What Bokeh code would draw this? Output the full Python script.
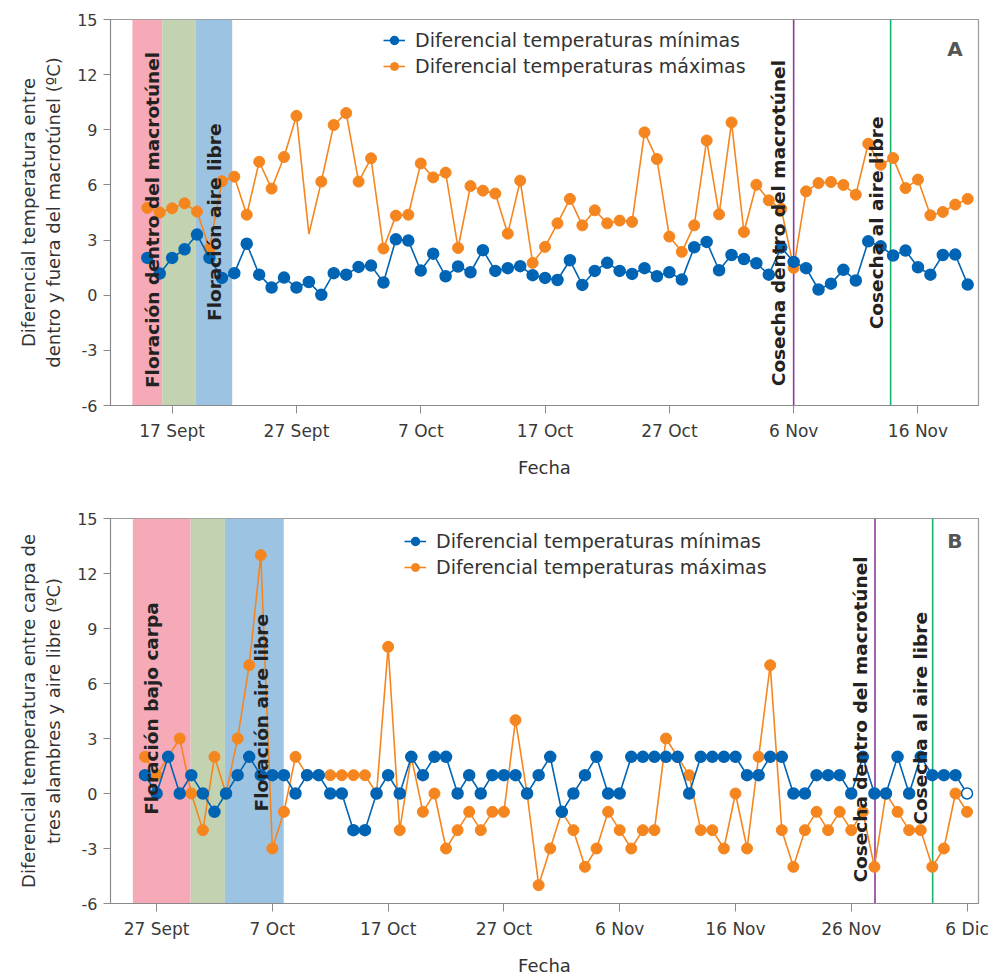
import math
from bokeh.plotting import figure
from bokeh.layouts import column
from bokeh.models import (Range1d, FixedTicker, Span, BoxAnnotation, Legend,
                          LegendItem, Label, ColumnDataSource)
from bokeh.embed import file_html
from bokeh.resources import INLINE

FONT = "DejaVu Sans"
BLUE = "#0064b4"
ORANGE = "#f5861f"

# ---------------- Panel A (days counted from 17 Sept) ----------------
a_first_day = -2   # 15 Sept
a_min = [2.03, 1.18, 2.03, 2.5, 3.3, 2.03, 0.94, 1.2, 2.8, 1.12, 0.42, 0.96, 0.42, 0.72,
         0.02, 1.2, 1.12, 1.54, 1.61, 0.69, 3.04, 2.97, 1.34, 2.26, 1.03, 1.56, 1.25,
         2.45, 1.32, 1.47, 1.58, 1.09, 0.94, 0.83, 1.9, 0.56, 1.32, 1.76, 1.32, 1.16,
         1.47, 1.03, 1.25, 0.85, 2.61, 2.9, 1.36, 2.19, 1.97, 1.74, 1.12, 2.6, 1.81,
         1.47, 0.31, 0.63, 1.38, 0.8, 2.93, 2.66, 2.16, 2.43, 1.52, 1.12, 2.19, 2.21, 0.58]
a_max = [4.75, 4.5, 4.73, 5.0, 4.55, 2.54, 6.2, 6.45, 4.38, 7.26, 5.8, 7.52, 9.76, 3.33,
         6.18, 9.26, 9.91, 6.18, 7.45, 2.54, 4.33, 4.38, 7.17, 6.41, 6.67, 2.57, 5.94,
         5.69, 5.53, 3.35, 6.23, 1.76, 2.63, 3.91, 5.24, 3.8, 4.62, 3.91, 4.06, 3.99,
         8.86, 7.41, 3.19, 2.36, 3.8, 8.42, 4.4, 9.4, 3.44, 6.01, 5.16, 4.7, 1.49, 5.65,
         6.1, 6.16, 6.0, 5.47, 8.24, 7.1, 7.46, 5.83, 6.29, 4.35, 4.53, 4.93, 5.24]
a_max_no_marker_days = [11]
a_tick_days = [0, 10, 20, 30, 40, 50, 60]
a_tick_labels = ["17 Sept", "27 Sept", "7 Oct", "17 Oct", "27 Oct", "6 Nov", "16 Nov"]
a_bands = [(-3.2, -0.8), (-0.8, 1.87), (1.87, 4.83)]
a_harvest_in = 50.0
a_harvest_out = 57.8
a_ylabel = "Diferencial temperatura entre\ndentro y fuera del macrotúnel (ºC)"

# ---------------- Panel B (days counted from 27 Sept) ----------------
b_first_day = -1   # 26 Sept
b_min = [1, 0, 2, 0, 1, 0, -1, 0, 1, 2, 1, 1, 1, 0, 1, 1, 0, 0, -2, -2, 0, 1, 0, 2, 1, 2,
         2, 0, 1, 0, 1, 1, 1, 0, 1, 2, -1, 0, 1, 2, 0, 0, 2, 2, 2, 2, 2, 0, 2, 2, 2, 2, 1,
         1, 2, 2, 0, 0, 1, 1, 1, 0, 2, 0, 0, 2, 0, 2, 1, 1, 1, 0]
b_max = [2, 1, 2, 3, 0, -2, 2, 0, 3, 7, 13, -3, -1, 2, 1, 1, 1, 1, 1, 1, 0, 8, -2, 2, -1,
         0, -3, -2, -1, -2, -1, -1, 4, 0, -5, -3, -1, -2, -4, -3, -1, -2, -3, -2, -2, 3,
         2, 1, -2, -2, -3, 0, -3, 2, 7, -2, -4, -2, -1, -2, -1, -2, -1, -4, 0, -1, -2,
         -2, -4, -3, 0, -1]
b_min_open_days = [70]
b_tick_days = [0, 10, 20, 30, 40, 50, 60, 70]
b_tick_labels = ["27 Sept", "7 Oct", "17 Oct", "27 Oct", "6 Nov", "16 Nov", "26 Nov", "6 Dic"]
b_bands = [(-2.05, 2.94), (2.94, 5.9), (5.9, 10.98)]
b_harvest_in = 62.05
b_harvest_out = 67.03
b_ylabel = "Diferencial temperatura entre carpa de\ntres alambres y aire libre (ºC)"

legend_labels = ["Diferencial temperaturas mínimas", "Diferencial temperaturas máximas"]
band_colors = ["#f6aab8", "#c3d3b1", "#9dc3e3"]
y_ticks = [-6, -3, 0, 3, 6, 9, 12, 15]
y_tick_labels = ["-6", "-3", "0", "3", "6", "9", "12", "15"]


def make_panel(first_day, vmin, vmax, no_marker_max, open_min, ticks, tick_labels,
               bands, harvest_in, harvest_out, xr, ylabel, texts, letter, letter_pos,
               legend_loc, height, top, bottom):
    p = figure(width=991, height=height, output_backend="svg", toolbar_location=None,
               x_range=Range1d(*xr), y_range=Range1d(-6, 15),
               min_border_left=110, min_border_right=13, min_border_top=top,
               min_border_bottom=bottom)
    p.grid.visible = False
    p.outline_line_color = "#9a9a9a"
    p.outline_line_width = 1.2

    for (x0, x1), c in zip(bands, band_colors):
        p.add_layout(BoxAnnotation(left=x0, right=x1, fill_color=c, fill_alpha=1.0,
                                   line_color=None, level="underlay"))
    p.add_layout(Span(location=harvest_in, dimension="height", line_color="#8b3a97",
                      line_width=1.6, level="underlay"))
    p.add_layout(Span(location=harvest_out, dimension="height", line_color="#14b36e",
                      line_width=1.6, level="underlay"))

    days = [first_day + i for i in range(len(vmin))]
    src_min = ColumnDataSource(dict(x=days, y=vmin,
                                    fill=["white" if d in open_min else BLUE for d in days]))
    mk_days = [d for d in days if d not in no_marker_max]
    mk_vals = [v for d, v in zip(days, vmax) if d not in no_marker_max]
    src_max = ColumnDataSource(dict(x=mk_days, y=mk_vals))

    lmax = p.line(days, vmax, line_color=ORANGE, line_width=1.6)
    smax = p.scatter("x", "y", source=src_max, size=11, fill_color=ORANGE,
                     line_color=ORANGE)
    lmin = p.line(days, vmin, line_color=BLUE, line_width=1.6)
    smin = p.scatter("x", "y", source=src_min, size=11, fill_color="fill",
                     line_color=BLUE, line_width=1.5)

    legend = Legend(items=[LegendItem(label=legend_labels[0], renderers=[lmin, smin]),
                           LegendItem(label=legend_labels[1], renderers=[lmax, smax])],
                    location=legend_loc, background_fill_alpha=0, border_line_color=None,
                    padding=0, margin=0, spacing=4, glyph_width=22, glyph_height=20,
                    label_standoff=10, label_text_font=FONT, label_text_font_size="19px",
                    label_text_color="#333333", label_height=20)
    p.add_layout(legend)

    for (tx, ty, t) in texts:
        p.add_layout(Label(x=tx, y=ty, text=t, angle=math.pi / 2, text_align="left",
                           text_baseline="middle", text_font=FONT, text_font_style="bold",
                           text_font_size="18.5px", text_color="#222222"))
    p.add_layout(Label(x=letter_pos[0], y=letter_pos[1], text=letter, text_align="right",
                       text_baseline="middle", text_font=FONT, text_font_style="bold",
                       text_font_size="20px", text_color="#555555"))

    for ax in (p.xaxis[0], p.yaxis[0]):
        ax.axis_line_color = "#8a8a8a"
        ax.major_tick_line_color = "#8a8a8a"
        ax.minor_tick_line_color = None
        ax.major_tick_in = 0
        ax.major_tick_out = 8
        ax.major_label_text_font = FONT
        ax.major_label_text_font_size = "17px"
        ax.major_label_text_color = "#3a3a3a"
        ax.axis_label_text_font = FONT
        ax.axis_label_text_font_size = "18px"
        ax.axis_label_text_font_style = "normal"
        ax.axis_label_text_color = "#333333"

    p.xaxis.ticker = FixedTicker(ticks=ticks)
    p.xaxis.major_label_overrides = {t: l for t, l in zip(ticks, tick_labels)}
    p.xaxis.axis_label = "Fecha"
    p.xaxis.major_label_standoff = 7
    p.xaxis.axis_label_standoff = 13
    p.yaxis.ticker = FixedTicker(ticks=y_ticks)
    p.yaxis.major_label_overrides = {t: l for t, l in zip(y_ticks, y_tick_labels)}
    p.yaxis.major_label_text_font_size = "16px"
    p.yaxis.axis_label = ylabel
    p.yaxis.major_label_standoff = 6
    p.yaxis.axis_label_standoff = 10
    p.yaxis.major_tick_out = 7
    return p


pA = make_panel(a_first_day, a_min, a_max, a_max_no_marker_days, [], a_tick_days,
                a_tick_labels, a_bands, a_harvest_in, a_harvest_out, (-4.96, 64.87),
                a_ylabel,
                [(-1.6, -5.05, "Floración dentro del macrotúnel"),
                 (3.4, -1.4, "Floración aire libre"),
                 (48.8, -4.95, "Cosecha dentro del macrotúnel"),
                 (56.7, -1.85, "Cosecha al aire libre")],
                "A", (63.6, 13.4), (273, 328), 498, 19, 93)

pB = make_panel(b_first_day, b_min, b_max, [], b_min_open_days, b_tick_days,
                b_tick_labels, b_bands, b_harvest_in, b_harvest_out, (-3.98, 70.99),
                b_ylabel,
                [(-0.45, -1.16, "Floración bajo carpa"),
                 (9.07, -0.98, "Floración aire libre"),
                 (60.8, -4.86, "Cosecha dentro del macrotúnel"),
                 (65.95, -1.7, "Cosecha al aire libre")],
                "B", (69.6, 13.75), (294, 325), 480, 20, 74)

layout = column(pA, pB, spacing=0)
open("out.html", "w").write(file_html(layout, INLINE))
